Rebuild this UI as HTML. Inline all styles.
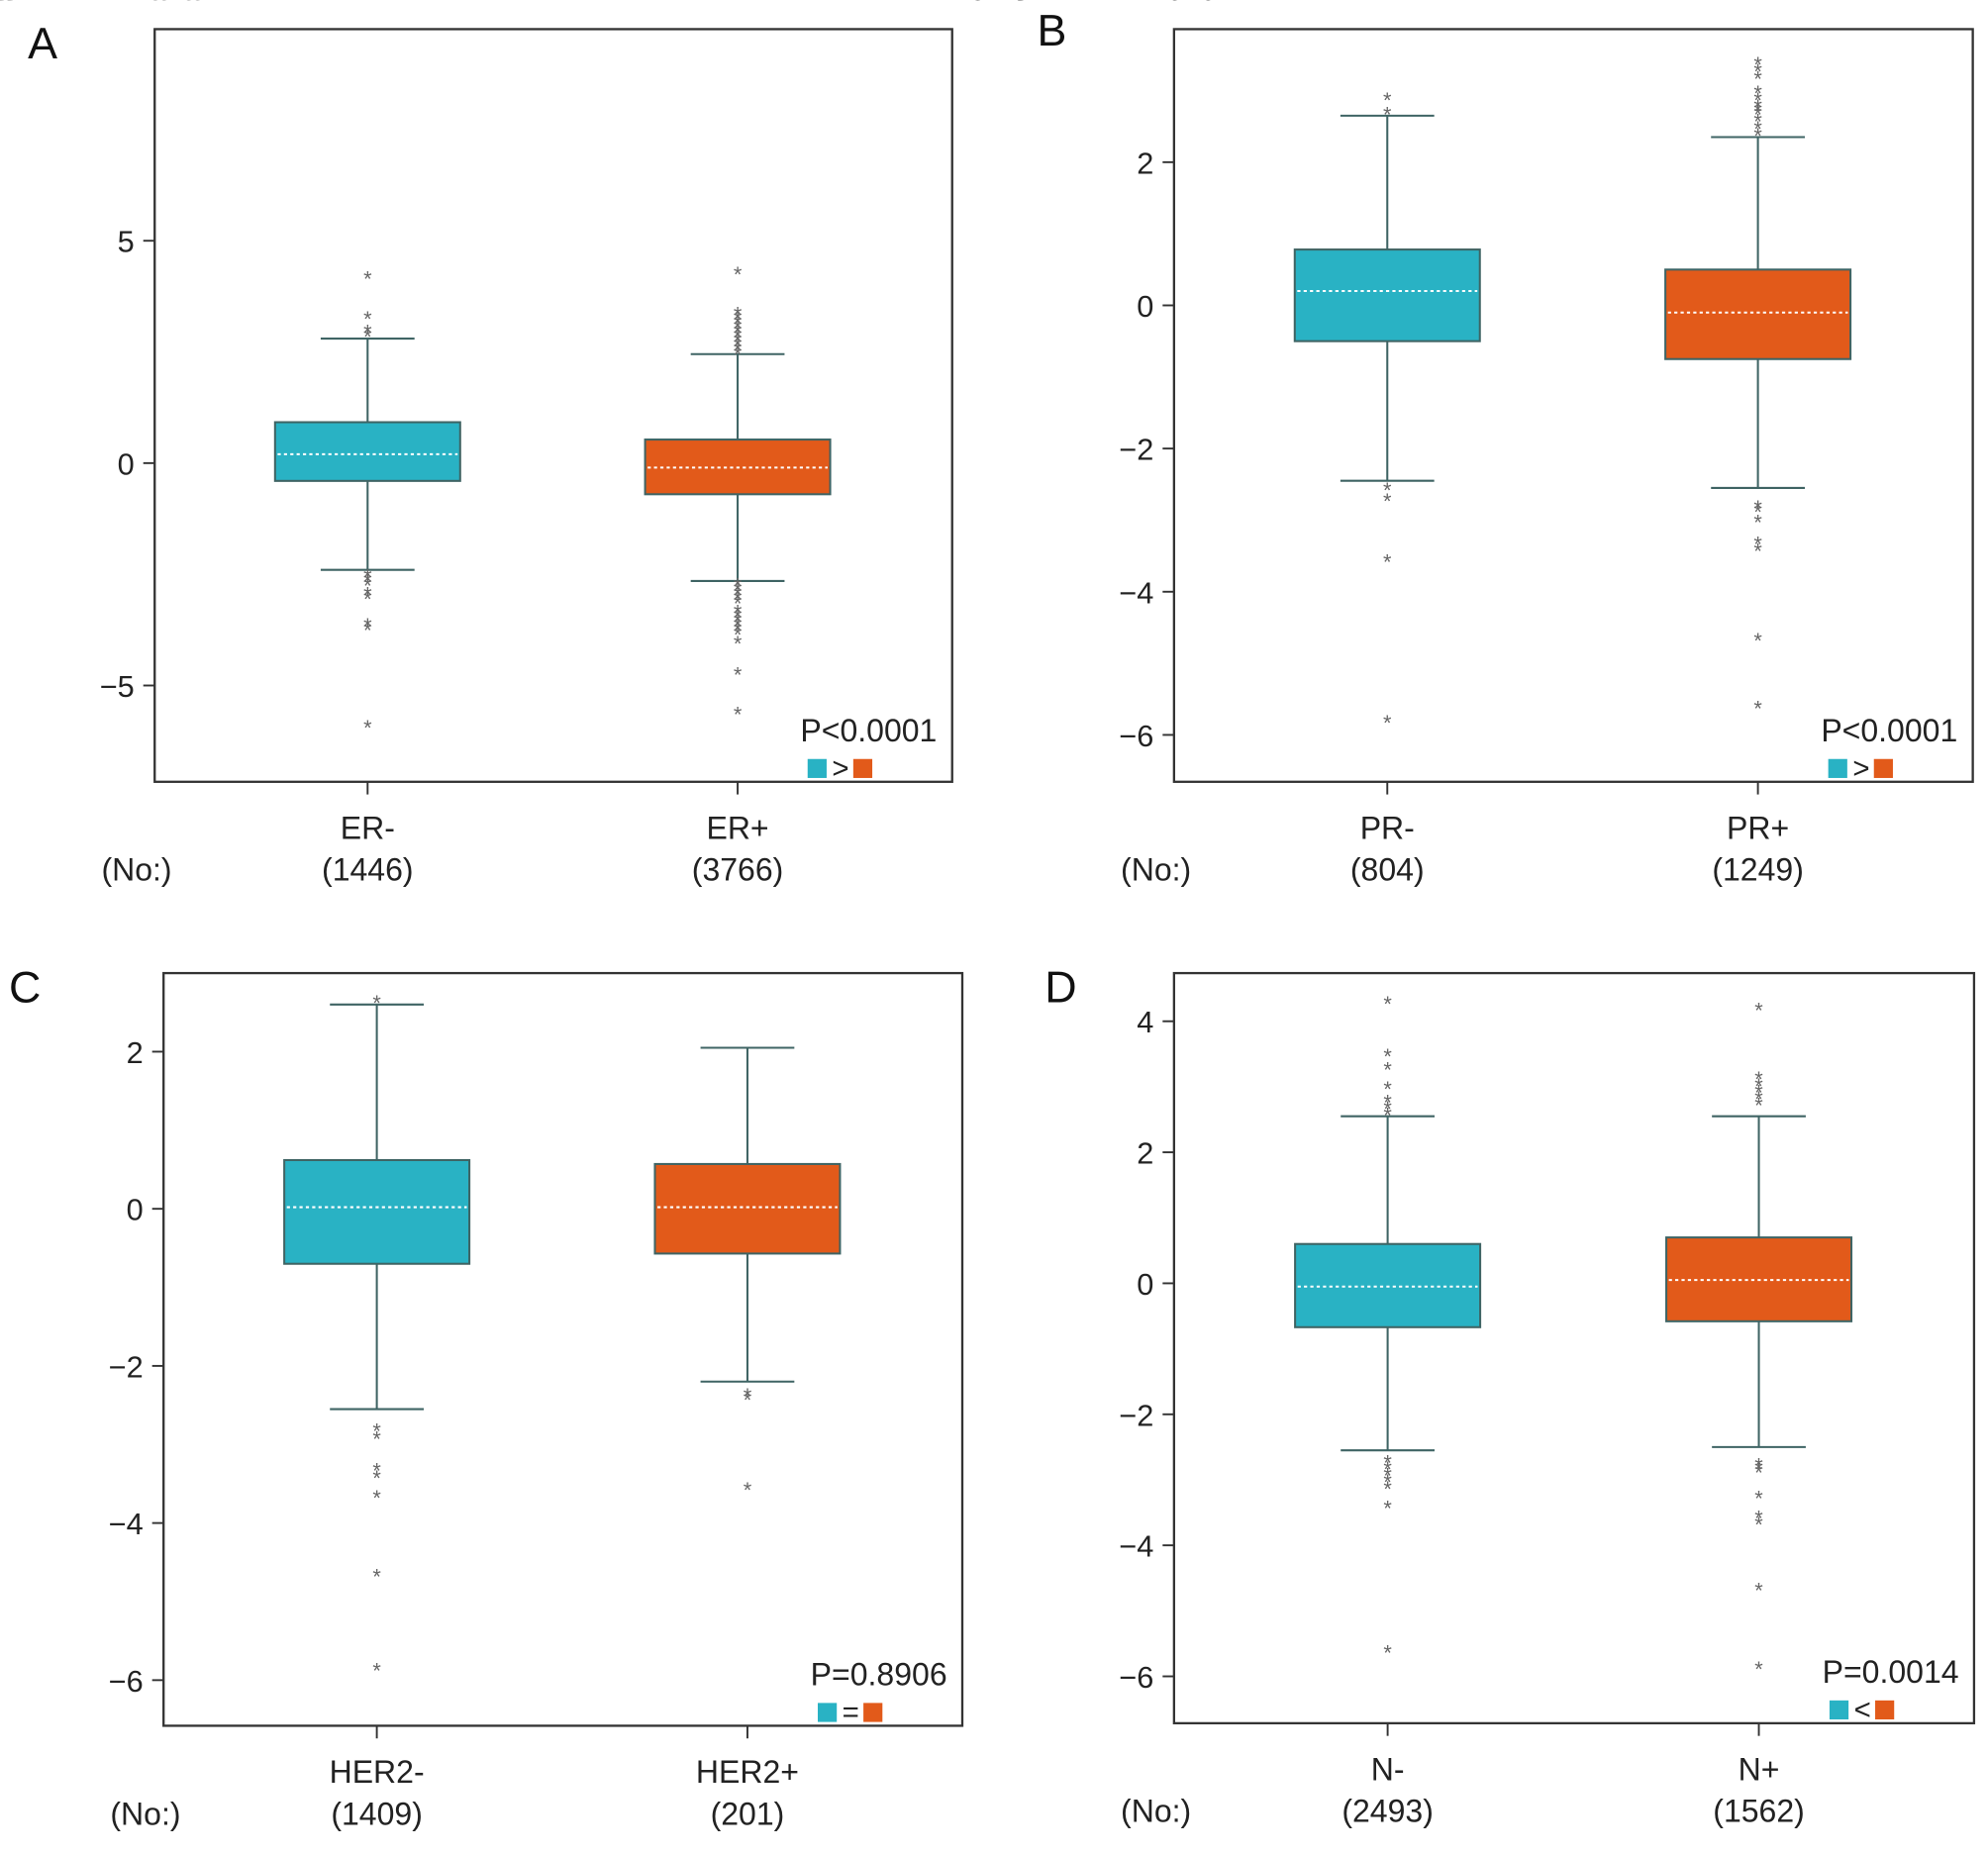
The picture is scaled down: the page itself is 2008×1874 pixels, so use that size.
<!DOCTYPE html>
<html><head><meta charset="utf-8">
<style>
html,body{margin:0;padding:0;background:#fff;}
svg{display:block;font-family:"Liberation Sans",Arial,sans-serif;}
</style></head>
<body>
<svg id="fig" width="2008" height="1874" viewBox="0 0 1568 1464" preserveAspectRatio="none" xmlns="http://www.w3.org/2000/svg"></svg>
<script>
// ---- Panel A data ----
const catsA = ["ER-","ER+"];
const countsA = ["(1446)","(3766)"];
const q1A = [-0.4,-0.7];
const medA = [0.2,-0.1];
const q3A = [0.92,0.53];
const loA = [-2.4,-2.65];
const hiA = [2.8,2.45];
const outA0 = [4.2,3.3,3.0,2.9,-2.5,-2.6,-2.7,-2.9,-3.0,-3.6,-3.7,-5.9];
const outA1 = [4.3,3.4,3.3,3.2,3.1,3.0,2.9,2.8,2.7,2.6,2.5,-2.7,-2.8,-2.9,-3.0,-3.1,-3.3,-3.4,-3.5,-3.6,-3.7,-3.8,-4.0,-4.7,-5.6];
const ticksA = [5,0,-5];
// ---- Panel B data ----
const catsB = ["PR-","PR+"];
const countsB = ["(804)","(1249)"];
const q1B = [-0.5,-0.75];
const medB = [0.2,-0.1];
const q3B = [0.78,0.5];
const loB = [-2.45,-2.55];
const hiB = [2.65,2.35];
const outB0 = [2.9,2.7,-2.55,-2.7,-3.55,-5.8];
const outB1 = [3.4,3.3,3.2,3.0,2.9,2.8,2.75,2.7,2.6,2.5,2.4,-2.8,-2.85,-3.0,-3.3,-3.4,-4.65,-5.6];
const ticksB = [2,0,-2,-4,-6];
// ---- Panel C data ----
const catsC = ["HER2-","HER2+"];
const countsC = ["(1409)","(201)"];
const q1C = [-0.7,-0.57];
const medC = [0.02,0.02];
const q3C = [0.62,0.57];
const loC = [-2.55,-2.2];
const hiC = [2.6,2.05];
const outC0 = [2.65,-2.8,-2.9,-3.3,-3.4,-3.65,-4.65,-5.85];
const outC1 = [-2.35,-2.4,-3.55];
const ticksC = [2,0,-2,-4,-6];
// ---- Panel D data ----
const catsD = ["N-","N+"];
const countsD = ["(2493)","(1562)"];
const q1D = [-0.67,-0.58];
const medD = [-0.05,0.05];
const q3D = [0.6,0.7];
const loD = [-2.55,-2.5];
const hiD = [2.55,2.55];
const outD0 = [4.3,3.5,3.3,3.0,2.8,2.7,2.6,-2.7,-2.8,-2.9,-3.0,-3.1,-3.4,-5.6];
const outD1 = [4.2,3.15,3.05,2.95,2.85,2.75,-2.75,-2.8,-2.85,-3.25,-3.55,-3.65,-4.65,-5.85];
const ticksD = [4,2,0,-2,-4,-6];

const NS="http://www.w3.org/2000/svg";
const svg=document.getElementById('fig');
const TEAL="#29b2c4", ORANGE="#e25a1a", LINE="#3f6464";
function mk(tag,attrs,parent,text){const e=document.createElementNS(NS,tag);for(const k in attrs)e.setAttribute(k,attrs[k]);if(text!==undefined)e.textContent=text;(parent||svg).appendChild(e);return e;}

function panel(cfg){
  const g=mk('g',{});
  
  
  const y=v=>cfg.y0+(cfg.v0-v)*(cfg.y1-cfg.y0)/(cfg.v0-cfg.v1);
  const xs=[cfg.x1+(cfg.x2-cfg.x1)*0.267,cfg.x1+(cfg.x2-cfg.x1)*0.731];
  const lt=mk('text',{x:cfg.lx,y:cfg.ly,'font-size':35,fill:'#111'},g,cfg.letter);
  
  
  cfg.ticks.forEach(t=>{
    mk('line',{x1:cfg.x1-9,x2:cfg.x1,y1:y(t),y2:y(t),stroke:'#333','stroke-width':1.5},g);
    const tl=mk('text',{x:cfg.x1-16,y:y(t)+9,'font-size':24,'text-anchor':'end',fill:'#222'},g,t<0?'\u2212'+(-t):String(t));
    
    
  });
  const cy=(cfg.y0t+cfg.y1t)/2, tx=cfg.x1-62;
  const yt=mk('text',{x:tx,y:cy,'font-size':25,'text-anchor':'middle',fill:'#222',transform:`rotate(-90 ${tx} ${cy})`},g);
  
  
  mk('tspan',{'font-style':'italic'},yt,'CKS2');
  mk('tspan',{},yt,' mRNA level');
  const cols=[TEAL,ORANGE];
  for(let i=0;i<2;i++){
    const x=xs[i], hw=73, cw=37;
    mk('line',{x1:x,x2:x,y1:y(cfg.hi[i]),y2:y(cfg.lo[i]),stroke:LINE,'stroke-width':1.6},g);
    mk('line',{x1:x-cw,x2:x+cw,y1:y(cfg.hi[i]),y2:y(cfg.hi[i]),stroke:LINE,'stroke-width':1.6},g);
    mk('line',{x1:x-cw,x2:x+cw,y1:y(cfg.lo[i]),y2:y(cfg.lo[i]),stroke:LINE,'stroke-width':1.6},g);
    const b=mk('rect',{x:x-hw,y:y(cfg.q3[i]),width:2*hw,height:y(cfg.q1[i])-y(cfg.q3[i]),fill:cols[i],stroke:LINE,'stroke-width':1.6},g);
    
    
    mk('line',{x1:x-hw+2,x2:x+hw-2,y1:y(cfg.med[i]),y2:y(cfg.med[i]),stroke:'#fff','stroke-width':1.6,'stroke-dasharray':'2.5 2.5'},g);
    cfg.outs[i].forEach(v=>{
      const o=mk('text',{x:x,y:y(v)+8,'font-size':17,'text-anchor':'middle',fill:'#666'},g,'*');
      
      
    });
    mk('line',{x1:x,x2:x,y1:cfg.y1b,y2:cfg.y1b+10,stroke:'#333','stroke-width':1.5},g);
    const cl=mk('text',{x:x,y:cfg.y1b+45,'font-size':25,'text-anchor':'middle',fill:'#222'},g,cfg.cats[i]);
    
    
    const cn=mk('text',{x:x,y:cfg.y1b+78,'font-size':25,'text-anchor':'middle',fill:'#222'},g,cfg.counts[i]);
    
    
  }
  const no=mk('text',{x:cfg.x1-42,y:cfg.y1b+78,'font-size':25,'text-anchor':'start',fill:'#222'},g,'(No:)');
  
  
  const fr=mk('rect',{x:cfg.x1,y:cfg.y0t,width:cfg.x2-cfg.x1,height:cfg.y1b-cfg.y0t,fill:'none',stroke:'#333','stroke-width':1.8},g);
  
  
  const pt=mk('text',{x:cfg.x2-12,y:cfg.y1b-32,'font-size':25,'text-anchor':'end',fill:'#222'},g,cfg.p);
  
  
  const sy=cfg.y1b-18, sx=cfg.x2-114;
  const s1=mk('rect',{x:sx,y:sy,width:15,height:15,fill:TEAL},g);
  
  
  mk('text',{x:sx+26,y:sy+15,'font-size':23,'text-anchor':'middle',fill:'#222'},g,cfg.rel);
  const s2=mk('rect',{x:sx+36,y:sy,width:15,height:15,fill:ORANGE},g);
  
  
}

panel({letter:'A',lx:22,ly:46,x1:122,x2:751,y0t:23,y1b:617,v0:5,y0:190,v1:-5,y1:541,ticks:ticksA,cats:catsA,counts:countsA,q1:q1A,med:medA,q3:q3A,lo:loA,hi:hiA,outs:[outA0,outA1],p:'P<0.0001',rel:'>'});
panel({letter:'B',lx:818,ly:36,x1:926,x2:1556,y0t:23,y1b:617,v0:2,y0:128,v1:-6,y1:580,ticks:ticksB,cats:catsB,counts:countsB,q1:q1B,med:medB,q3:q3B,lo:loB,hi:hiB,outs:[outB0,outB1],p:'P<0.0001',rel:'>'});
panel({letter:'C',lx:7,ly:791,x1:129,x2:759,y0t:768,y1b:1362,v0:2,y0:830,v1:-6,y1:1326,ticks:ticksC,cats:catsC,counts:countsC,q1:q1C,med:medC,q3:q3C,lo:loC,hi:hiC,outs:[outC0,outC1],p:'P=0.8906',rel:'='});
panel({letter:'D',lx:824,ly:791,x1:926,x2:1557,y0t:768,y1b:1360,v0:4,y0:806,v1:-6,y1:1323,ticks:ticksD,cats:catsD,counts:countsD,q1:q1D,med:medD,q3:q3D,lo:loD,hi:hiD,outs:[outD0,outD1],p:'P=0.0014',rel:'<'});
</script>
</body></html>
